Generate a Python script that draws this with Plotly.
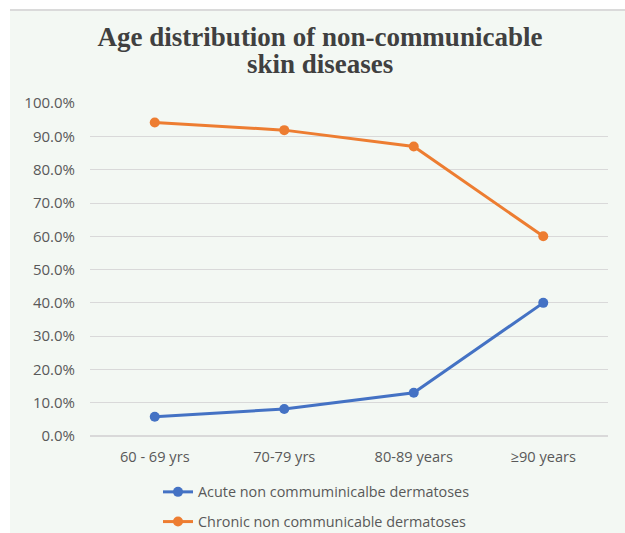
import plotly.graph_objects as go

# Age groups and share of each dermatosis type
age_groups = ["60 - 69 yrs", "70-79 yrs", "80-89 years", "≥90 years"]
acute_share = [0.058, 0.081, 0.130, 0.400]
chronic_share = [0.942, 0.919, 0.870, 0.600]

series_names = ["Acute non commuminicalbe dermatoses", "Chronic non communicable dermatoses"]
series_colors = ["#4472C4", "#ED7D31"]
title_lines = ["Age distribution of non-communicable", "skin diseases"]

# Plot area geometry (pixels) used to position the framing panel
W, H = 625, 533
L, R, T, B = 90, 17, 103, 97
pw, ph = W - L - R, H - T - B

def px_x(x):
    return (x - L) / pw

def px_y(y):
    return (H - B - y) / ph

TXT = "#595959"
SANS = "Open Sans"

fig = go.Figure()
for name, vals, col, grp in zip(series_names, [acute_share, chronic_share], series_colors, ["a", "c"]):
    fig.add_trace(go.Scatter(
        x=age_groups, y=vals, name=name, mode="lines+markers",
        line=dict(color=col, width=3),
        marker=dict(color=col, size=10),
        legendgroup=grp,
    ))

title_font = dict(family="Liberation Serif", size=27, color="#404040")

fig.update_layout(
    width=W, height=H,
    margin=dict(l=L, r=R, t=T, b=B, autoexpand=False),
    paper_bgcolor="white",
    plot_bgcolor="rgba(0,0,0,0)",
    showlegend=True,
    title=dict(
        text="<b>" + title_lines[0] + "</b>",
        x=320 / W, xref="container", xanchor="center",
        y=1 - 37 / H, yref="container", yanchor="middle",
        font=title_font,
    ),
    annotations=[
        dict(text="<b>" + title_lines[1] + "</b>", xref="paper", yref="paper",
             x=px_x(320), y=px_y(64), xanchor="center", yanchor="middle",
             showarrow=False, font=title_font),
    ],
    legend=dict(
        x=px_x(158), y=px_y(476), xanchor="left", yanchor="top",
        orientation="v", tracegroupgap=8,
        font=dict(family=SANS, size=14.4, color=TXT),
        bgcolor="rgba(0,0,0,0)",
    ),
    font=dict(family=SANS, size=14, color=TXT),
    shapes=[
        dict(type="rect", xref="paper", yref="paper",
             x0=px_x(10), x1=px_x(W + 5), y0=px_y(H + 5), y1=px_y(10),
             fillcolor="#F3F8F3", line=dict(width=0), layer="below"),
        dict(type="line", xref="paper", yref="paper",
             x0=px_x(10), x1=px_x(W + 5), y0=px_y(10), y1=px_y(10),
             line=dict(color="#DADADA", width=2), layer="below"),
    ],
)

fig.update_xaxes(
    type="category", range=[-0.5, 3.5],
    showgrid=False, showline=False, zeroline=False,
    ticks="", tickfont=dict(family=SANS, size=14.6, color=TXT),
    ticklabelstandoff=10,
)
fig.update_yaxes(
    range=[0, 1.0005], dtick=0.1, tickformat=".1%",
    showgrid=True, gridcolor="#D9D9D9", gridwidth=1,
    zeroline=True, zerolinecolor="#D9D9D9", zerolinewidth=1.5,
    showline=False, ticks="",
    tickfont=dict(family=SANS, size=15, color=TXT),
    ticklabelstandoff=14,
)

fig.write_html("out.html")
